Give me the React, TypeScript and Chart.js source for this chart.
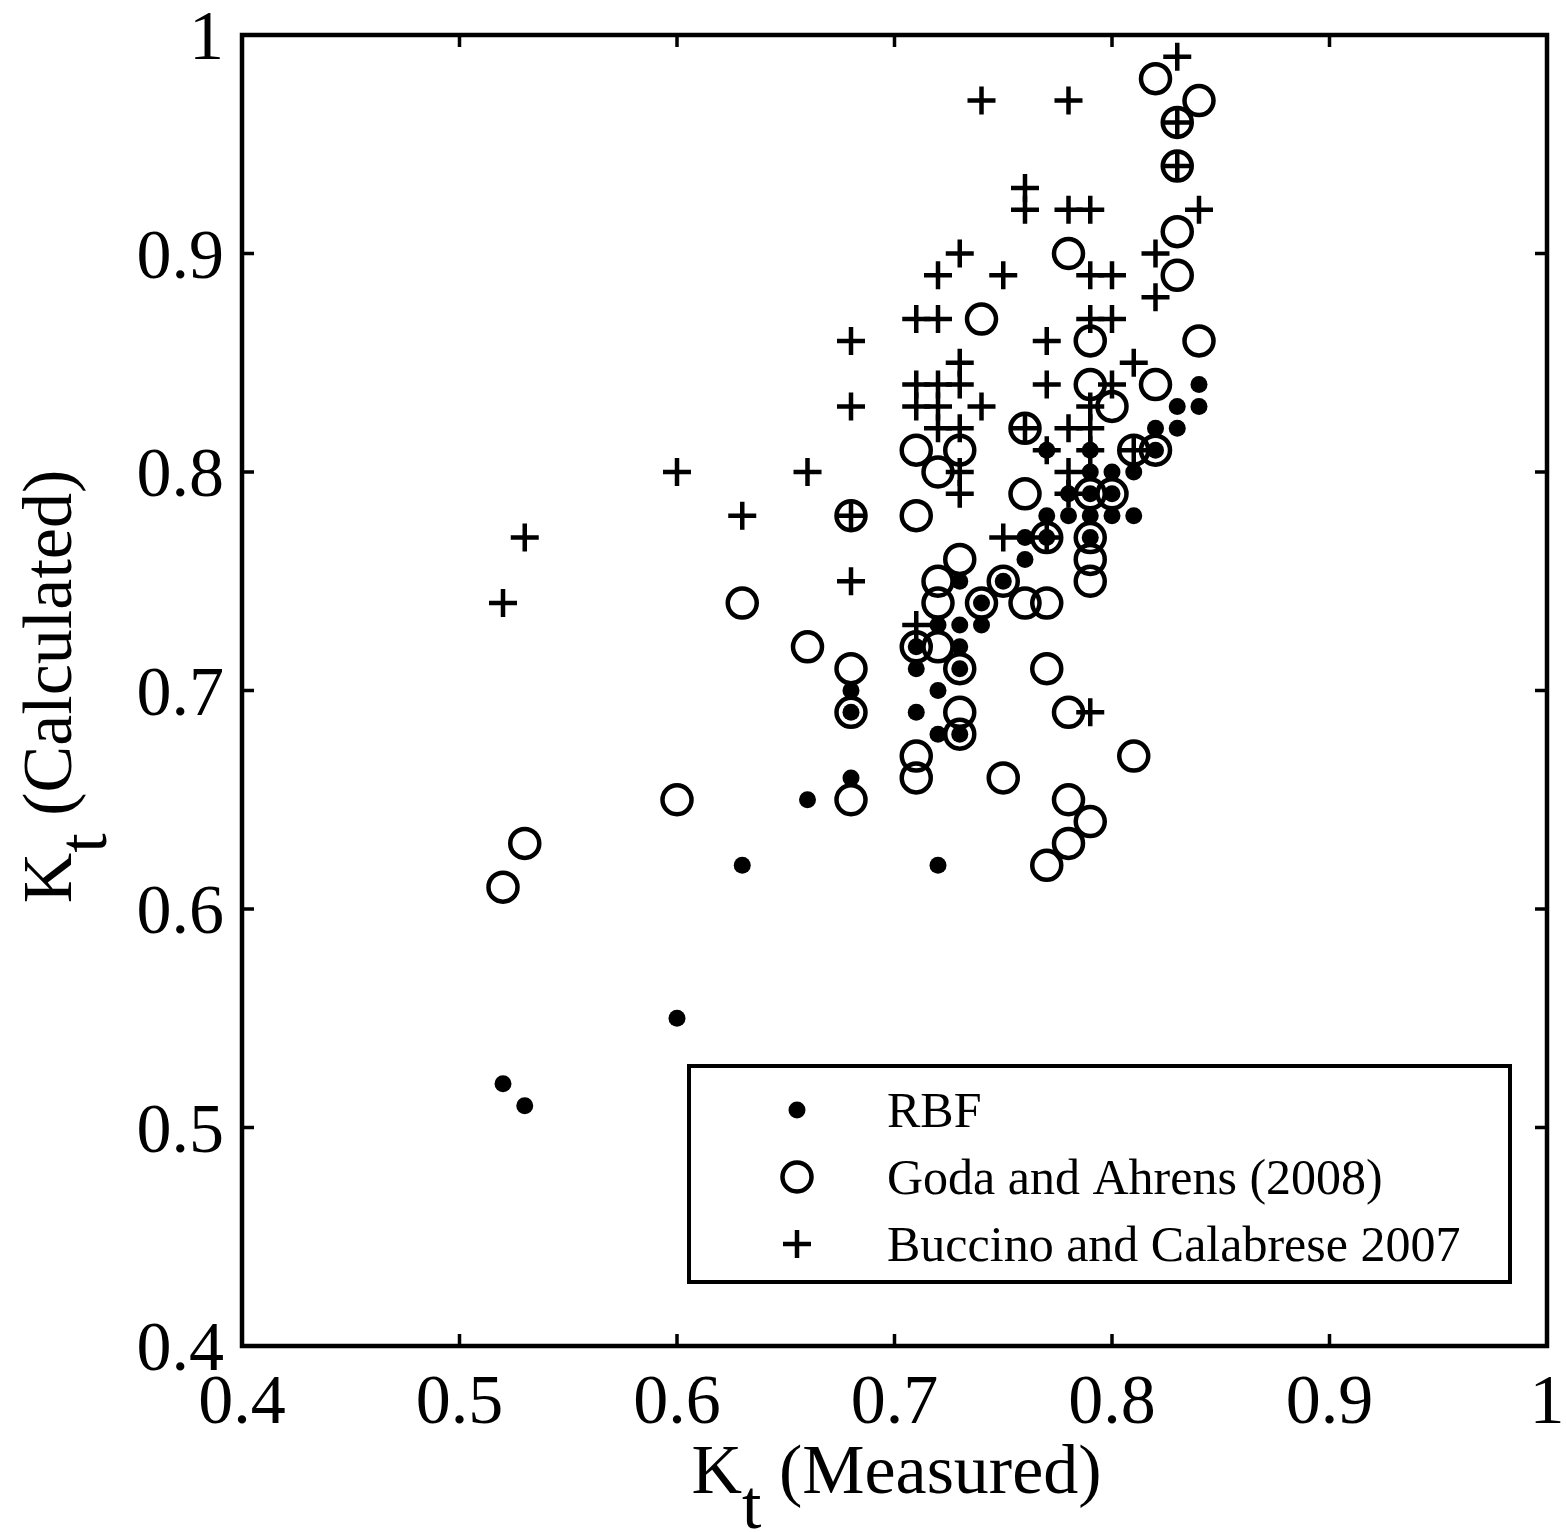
import React, { useEffect, useRef } from "react";
import { Chart, registerables } from "chart.js";

Chart.register(...registerables);

// ---- Data (Kt measured vs Kt calculated) ----
const rbfX = [0.52, 0.53, 0.60, 0.63, 0.66, 0.68, 0.68, 0.68, 0.71, 0.71, 0.71, 0.72, 0.72, 0.72, 0.72, 0.73, 0.73, 0.73, 0.73, 0.73, 0.74, 0.74, 0.75, 0.76, 0.76, 0.77, 0.77, 0.77, 0.78, 0.78, 0.79, 0.79, 0.79, 0.79, 0.79, 0.80, 0.80, 0.80, 0.81, 0.81, 0.82, 0.82, 0.83, 0.83, 0.84, 0.84];
const rbfY = [0.52, 0.51, 0.55, 0.62, 0.65, 0.70, 0.69, 0.66, 0.72, 0.71, 0.69, 0.73, 0.70, 0.68, 0.62, 0.75, 0.73, 0.72, 0.71, 0.68, 0.74, 0.73, 0.75, 0.77, 0.76, 0.81, 0.78, 0.77, 0.79, 0.78, 0.81, 0.80, 0.79, 0.78, 0.77, 0.80, 0.79, 0.78, 0.80, 0.78, 0.82, 0.81, 0.83, 0.82, 0.84, 0.83];

const godaX = [0.52, 0.53, 0.60, 0.63, 0.66, 0.68, 0.68, 0.68, 0.68, 0.71, 0.71, 0.71, 0.71, 0.71, 0.72, 0.72, 0.72, 0.72, 0.73, 0.73, 0.73, 0.73, 0.73, 0.74, 0.74, 0.75, 0.75, 0.76, 0.76, 0.76, 0.77, 0.77, 0.77, 0.77, 0.78, 0.78, 0.78, 0.78, 0.79, 0.79, 0.79, 0.79, 0.79, 0.79, 0.79, 0.80, 0.80, 0.81, 0.81, 0.82, 0.82, 0.82, 0.83, 0.83, 0.83, 0.83, 0.84, 0.84];
const godaY = [0.61, 0.63, 0.65, 0.74, 0.72, 0.78, 0.71, 0.69, 0.65, 0.81, 0.78, 0.72, 0.67, 0.66, 0.80, 0.75, 0.74, 0.72, 0.81, 0.76, 0.71, 0.69, 0.68, 0.87, 0.74, 0.75, 0.66, 0.82, 0.79, 0.74, 0.77, 0.74, 0.71, 0.62, 0.90, 0.69, 0.65, 0.63, 0.86, 0.84, 0.79, 0.77, 0.76, 0.75, 0.64, 0.83, 0.79, 0.81, 0.67, 0.98, 0.84, 0.81, 0.96, 0.94, 0.91, 0.89, 0.97, 0.86];

const bucX = [0.52, 0.53, 0.60, 0.63, 0.66, 0.68, 0.68, 0.68, 0.68, 0.71, 0.71, 0.71, 0.71, 0.72, 0.72, 0.72, 0.72, 0.72, 0.73, 0.73, 0.73, 0.73, 0.73, 0.73, 0.74, 0.74, 0.75, 0.75, 0.76, 0.76, 0.76, 0.77, 0.77, 0.77, 0.77, 0.78, 0.78, 0.78, 0.78, 0.78, 0.79, 0.79, 0.79, 0.79, 0.79, 0.79, 0.79, 0.80, 0.80, 0.80, 0.81, 0.81, 0.82, 0.82, 0.83, 0.83, 0.83, 0.84];
const bucY = [0.74, 0.77, 0.80, 0.78, 0.80, 0.86, 0.83, 0.78, 0.75, 0.87, 0.84, 0.83, 0.73, 0.89, 0.87, 0.84, 0.83, 0.82, 0.90, 0.85, 0.84, 0.82, 0.80, 0.79, 0.97, 0.83, 0.89, 0.77, 0.93, 0.92, 0.82, 0.86, 0.84, 0.81, 0.77, 0.97, 0.92, 0.82, 0.80, 0.79, 0.92, 0.89, 0.87, 0.83, 0.82, 0.81, 0.69, 0.89, 0.87, 0.84, 0.85, 0.81, 0.90, 0.88, 0.99, 0.96, 0.94, 0.92];

const seriesNames = ["RBF", "Goda and Ahrens (2008)", "Buccino and Calabrese 2007"];

const xTickValues = [0.4, 0.5, 0.6, 0.7, 0.8, 0.9, 1.0];
const xTickLabels = ["0.4", "0.5", "0.6", "0.7", "0.8", "0.9", "1"];
const yTickValues = [0.4, 0.5, 0.6, 0.7, 0.8, 0.9, 1.0];
const yTickLabels = ["0.4", "0.5", "0.6", "0.7", "0.8", "0.9", "1"];

const axisMain = "K";
const axisSub = "t";
const xTitleRest = " (Measured)";
const yTitleRest = " (Calculated)";

const FONT = '"Liberation Serif", "Times New Roman", Times, serif';

const toPts = (xs: number[], ys: number[]) => xs.map((x, i) => ({ x, y: ys[i] }));

function drawMarker(ctx: CanvasRenderingContext2D, kind: number, x: number, y: number) {
  ctx.save();
  ctx.fillStyle = "#000";
  ctx.strokeStyle = "#000";
  if (kind === 0) {
    ctx.beginPath();
    ctx.arc(x, y, 8.5, 0, Math.PI * 2);
    ctx.fill();
  } else if (kind === 1) {
    ctx.lineWidth = 4.5;
    ctx.beginPath();
    ctx.arc(x, y, 14.5, 0, Math.PI * 2);
    ctx.stroke();
  } else {
    ctx.lineWidth = 4.5;
    ctx.beginPath();
    ctx.moveTo(x - 14, y);
    ctx.lineTo(x + 14, y);
    ctx.moveTo(x, y - 14);
    ctx.lineTo(x, y + 14);
    ctx.stroke();
  }
  ctx.restore();
}

const framePlugin = {
  id: "matlabFrame",
  afterDraw(chart: any) {
    const { ctx, chartArea, scales } = chart;
    const { left, right, top, bottom } = chartArea;
    const xs = scales.x;
    const ys = scales.y;
    ctx.save();
    ctx.strokeStyle = "#000";
    ctx.fillStyle = "#000";
    // frame
    ctx.lineWidth = 4.5;
    ctx.strokeRect(left, top, right - left, bottom - top);
    // ticks
    ctx.lineWidth = 3.5;
    const tl = 12;
    ctx.beginPath();
    xTickValues.forEach((v) => {
      const px = xs.getPixelForValue(v);
      ctx.moveTo(px, bottom);
      ctx.lineTo(px, bottom - tl);
      ctx.moveTo(px, top);
      ctx.lineTo(px, top + tl);
    });
    yTickValues.forEach((v) => {
      const py = ys.getPixelForValue(v);
      ctx.moveTo(left, py);
      ctx.lineTo(left + tl, py);
      ctx.moveTo(right, py);
      ctx.lineTo(right - tl, py);
    });
    ctx.stroke();

    // tick labels
    ctx.font = `70px ${FONT}`;
    ctx.textBaseline = "alphabetic";
    ctx.textAlign = "center";
    xTickValues.forEach((v, i) => {
      const px = xs.getPixelForValue(v);
      ctx.fillText(xTickLabels[i], px, bottom + 77);
    });
    ctx.textAlign = "right";
    yTickValues.forEach((v, i) => {
      const py = ys.getPixelForValue(v);
      ctx.fillText(yTickLabels[i], left - 18, py + 24);
    });

    // axis titles
    const drawTitle = (rest: string, cx: number, baseY: number) => {
      ctx.font = `70px ${FONT}`;
      ctx.textAlign = "left";
      const wK = ctx.measureText(axisMain).width;
      const wt = ctx.measureText(axisSub).width;
      const wr = ctx.measureText(rest).width;
      const total = wK + wt + wr;
      const x0 = cx - total / 2;
      ctx.fillText(axisMain, x0, baseY);
      ctx.fillText(axisSub, x0 + wK, baseY + 35);
      ctx.fillText(rest, x0 + wK + wt, baseY);
    };
    const cxPlot = (left + right) / 2;
    drawTitle(xTitleRest, cxPlot + 2, 1493);

    ctx.save();
    const cyPlot = (top + bottom) / 2;
    ctx.translate(71, cyPlot - 4);
    ctx.rotate(-Math.PI / 2);
    drawTitle(yTitleRest, 0, 0);
    ctx.restore();

    // legend
    const bx = 689, by = 1066, bw = 821, bh = 216;
    ctx.fillStyle = "#fff";
    ctx.fillRect(bx, by, bw, bh);
    ctx.strokeStyle = "#000";
    ctx.lineWidth = 4;
    ctx.strokeRect(bx, by, bw, bh);
    const rows = [1110, 1177, 1244];
    ctx.fillStyle = "#000";
    ctx.font = `50px ${FONT}`;
    ctx.textAlign = "left";
    seriesNames.forEach((name, i) => {
      drawMarker(ctx, i, 797, rows[i]);
      ctx.fillText(name, 887, rows[i] + 17);
    });
    ctx.restore();
  },
};

export default function App() {
  const ref = useRef<HTMLCanvasElement>(null);
  useEffect(() => {
    const canvas = ref.current;
    if (!canvas) return;
    const chart = new Chart(canvas, {
      type: "scatter",
      data: {
        datasets: [
          {
            label: seriesNames[0],
            data: toPts(rbfX, rbfY),
            pointStyle: "circle",
            pointRadius: 8.5,
            pointBackgroundColor: "#000",
            pointBorderColor: "#000",
            pointBorderWidth: 0,
            showLine: false,
          },
          {
            label: seriesNames[1],
            data: toPts(godaX, godaY),
            pointStyle: "circle",
            pointRadius: 14.5,
            pointBackgroundColor: "rgba(0,0,0,0)",
            pointBorderColor: "#000",
            pointBorderWidth: 4.5,
            showLine: false,
          },
          {
            label: seriesNames[2],
            data: toPts(bucX, bucY),
            pointStyle: "cross",
            pointRadius: 14,
            pointBackgroundColor: "#000",
            pointBorderColor: "#000",
            pointBorderWidth: 4.5,
            showLine: false,
          },
        ],
      },
      options: {
        animation: false,
        responsive: false,
        maintainAspectRatio: false,
        events: [],
        layout: { padding: { left: 242, top: 35, right: 16, bottom: 186 } },
        scales: {
          x: { type: "linear", min: 0.4, max: 1.0, display: false },
          y: { type: "linear", min: 0.4, max: 1.0, display: false },
        },
        plugins: {
          legend: { display: false },
          tooltip: { enabled: false },
          title: { display: false },
        },
      },
      plugins: [framePlugin],
    });
    return () => chart.destroy();
  }, []);
  return (
    <div style={{ position: "absolute", left: 0, top: 0, width: 1566, height: 1532, background: "#fff" }}>
      <canvas ref={ref} width={1566} height={1532} style={{ display: "block", width: 1566, height: 1532 }} />
    </div>
  );
}
